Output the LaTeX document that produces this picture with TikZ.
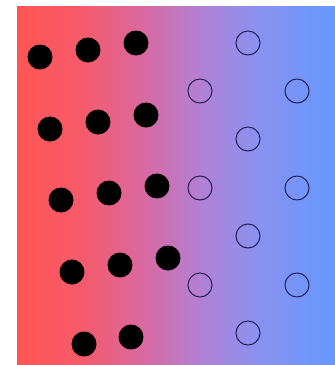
\documentclass[tikz,border=0pt]{standalone}
\usetikzlibrary{shapes.geometric}
\definecolor{cA}{RGB}{255,85,85}
\definecolor{cB}{RGB}{246,90,105}
\definecolor{cC}{RGB}{218,104,158}
\definecolor{cD}{RGB}{178,128,212}
\definecolor{cE}{RGB}{138,145,240}
\definecolor{cF}{RGB}{100,153,255}
\definecolor{ringcol}{RGB}{35,30,90}
\pgfdeclarehorizontalshading{bgshade}{100bp}{color(0bp)=(cA); color(25bp)=(cA); color(35bp)=(cB); color(44.5bp)=(cC); color(53.8bp)=(cD); color(63bp)=(cE); color(75bp)=(cF); color(100bp)=(cF)}
\tikzset{
  blackdot/.style={circle,fill=black,inner sep=0pt,minimum size=25pt},
  ring/.style={circle,draw=ringcol,line width=1pt,inner sep=0pt,minimum size=24pt}
}
\begin{document}
\begin{tikzpicture}[x=1pt,y=-1pt]
\useasboundingbox (0,0) rectangle (335,365);
\shade[shading=bgshade] (17,6) rectangle (335,365);
% black dots
\node[blackdot] (b11) at (40,57) {};
\node[blackdot] (b12) at (88,50) {};
\node[blackdot] (b13) at (136,43) {};
\node[blackdot] (b21) at (50,129) {};
\node[blackdot] (b22) at (98,122) {};
\node[blackdot] (b23) at (146,115) {};
\node[blackdot] (b31) at (61,200) {};
\node[blackdot] (b32) at (109,193) {};
\node[blackdot] (b33) at (157,186) {};
\node[blackdot] (b41) at (72,272) {};
\node[blackdot] (b42) at (120,265) {};
\node[blackdot] (b43) at (168,258) {};
\node[blackdot] (b51) at (84,344) {};
\node[blackdot] (b52) at (131,337) {};
% rings
\node[ring] (r1) at (248,43) {};
\node[ring] (r2) at (200,91) {};
\node[ring] (r3) at (297,91) {};
\node[ring] (r4) at (248,139) {};
\node[ring] (r5) at (200,188) {};
\node[ring] (r6) at (297,188) {};
\node[ring] (r7) at (248,236) {};
\node[ring] (r8) at (200,285) {};
\node[ring] (r9) at (297,285) {};
\node[ring] (r10) at (248,333) {};
\end{tikzpicture}
\end{document}
